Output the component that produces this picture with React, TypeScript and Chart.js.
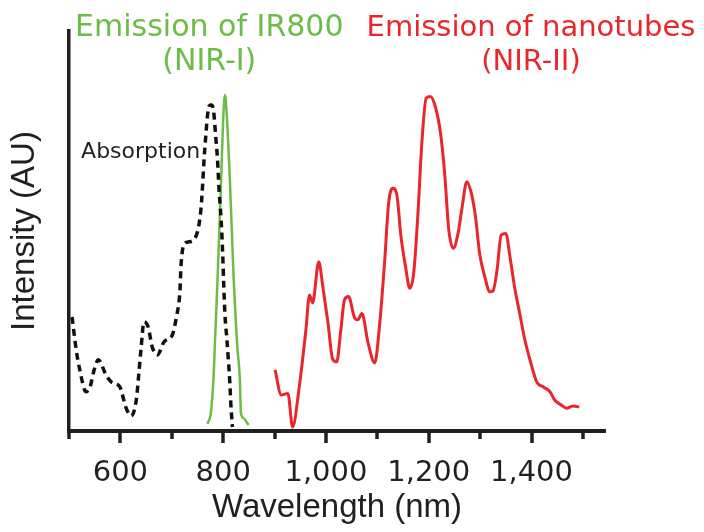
import React, { useEffect, useRef } from "react";
import { Chart, registerables } from "chart.js";

Chart.register(...registerables);

// ---- data (wavelength in nm, intensity in arbitrary units 0-100) ----
const absorptionNm = [506, 514, 521, 533, 541, 549, 557, 572, 582, 599, 603, 611, 621, 631, 636, 640, 646, 654, 662, 672, 685, 701, 709, 716, 718, 726, 734, 750, 757, 760, 763, 766, 769, 773, 777, 781, 786, 789, 792, 796, 799, 801, 803.5, 807, 810.5, 813, 815, 818];
const absorptionI = [28.5, 20.3, 15.3, 9.8, 11, 15.3, 17.8, 14, 12.3, 11, 9.5, 5.8, 3.8, 7.8, 14.5, 20.3, 27.3, 26, 21, 19, 22.3, 24, 28.5, 35.3, 41.5, 47, 47.3, 49.8, 55.8, 61.5, 68.3, 73.5, 78.3, 81.3, 81.5, 80.3, 72.8, 67.8, 60.3, 52.8, 44.5, 37, 29, 23.3, 17, 12, 6.5, 1];

const ir800Nm = [769.5, 776, 781, 785, 789, 796, 800, 803.5, 807, 813, 820.5, 825.5, 827.5, 832.5, 834.5, 839, 849.5];
const ir800I = [1.8, 4.5, 12.8, 25.3, 37.8, 62.8, 77.8, 84, 79, 62.8, 37.8, 25.3, 21, 12.8, 4.5, 3.3, 1.5];

const nanotubeNm = [901, 913, 926, 935, 948, 961, 968, 974, 986, 994, 1004, 1013, 1021, 1029, 1036, 1044, 1056, 1062, 1070, 1082, 1095, 1104, 1114, 1122, 1130, 1138, 1146, 1155, 1163, 1171, 1179, 1187, 1195, 1203, 1213, 1223, 1231, 1239, 1248, 1257, 1265, 1274, 1283, 1291, 1299, 1309, 1319, 1325, 1333, 1341, 1350, 1358, 1367, 1377, 1387, 1397, 1410, 1423, 1436, 1445, 1458, 1468, 1481, 1493];
const nanotubeI = [15.3, 9, 9.4, 1, 11, 25.3, 34, 32, 42.3, 36, 27, 18, 17.3, 25.3, 32.8, 33.6, 28.2, 27.8, 29.4, 22, 17, 26, 42, 57, 60.7, 59, 48.6, 41, 35.7, 39.8, 54.4, 72.8, 83.2, 83.6, 81, 74.4, 64.4, 50.3, 45.7, 49.4, 56, 62.3, 59.4, 53.6, 44.4, 38.6, 34.8, 35, 40.3, 49, 49.4, 43.6, 36, 29.4, 22.8, 17.8, 12.3, 11, 9.8, 7.75, 6.5, 5.7, 6.25, 6];

const xTickValues = [500, 600, 700, 800, 900, 1000, 1100, 1200, 1300, 1400, 1500];
const xLabelValues = [600, 800, 1000, 1200, 1400];

// annotation texts and their anchor (x in nm, y in intensity units)
const greenTitle = ["Emission of IR800", "(NIR-I)"];
const redTitle = ["Emission of nanotubes", "(NIR-II)"];
const titleLineY = [98.75, 90.25];
const greenTitleX = 773;
const redTitleX = 1399;
const absorptionLabel = "Absorption";
const absorptionLabelX = 523.5;
const absorptionLabelY = 68.25;

const AXIS = "#231f20";
const TEXT = "#231f20";
const RED = "#e8262b";
const GREEN = "#6cbd48";

const pts = (xs: number[], ys: number[]) => xs.map((x, i) => ({ x, y: ys[i] }));

const decorPlugin = {
  id: "decor",
  afterDraw(chart: any) {
    const { ctx, chartArea, scales } = chart;
    const xs = scales.x;
    const ys = scales.y;
    ctx.save();
    ctx.strokeStyle = AXIS;
    ctx.lineWidth = 3.5;
    ctx.lineCap = "butt";
    for (const v of xTickValues) {
      const px = Math.round(xs.getPixelForValue(v));
      const len = xLabelValues.includes(v) ? 12 : 8;
      ctx.beginPath();
      ctx.moveTo(px, chartArea.bottom - 1);
      ctx.lineTo(px, chartArea.bottom + len);
      ctx.stroke();
    }
    ctx.textAlign = "center";
    ctx.textBaseline = "alphabetic";
    ctx.font = "30px 'DejaVu Sans'";
    ctx.fillStyle = GREEN;
    greenTitle.forEach((t, i) => {
      ctx.fillText(t, xs.getPixelForValue(greenTitleX), ys.getPixelForValue(titleLineY[i]));
    });
    ctx.font = "29px 'DejaVu Sans'";
    ctx.fillStyle = RED;
    redTitle.forEach((t, i) => {
      ctx.fillText(t, xs.getPixelForValue(redTitleX), ys.getPixelForValue(titleLineY[i]));
    });
    ctx.textAlign = "left";
    ctx.font = "22px 'DejaVu Sans'";
    ctx.fillStyle = TEXT;
    ctx.fillText(absorptionLabel, xs.getPixelForValue(absorptionLabelX), ys.getPixelForValue(absorptionLabelY));
    ctx.restore();
  },
};

export default function App() {
  const ref = useRef<HTMLCanvasElement | null>(null);
  useEffect(() => {
    if (!ref.current) return;
    const chart = new Chart(ref.current, {
      type: "line",
      data: {
        datasets: [
          {
            data: pts(absorptionNm, absorptionI),
            borderColor: "#111111",
            borderWidth: 3.5,
            borderDash: [7, 5],
            pointRadius: 0,
            cubicInterpolationMode: "monotone",
            fill: false,
          },
          {
            data: pts(ir800Nm, ir800I),
            borderColor: GREEN,
            borderWidth: 2.5,
            pointRadius: 0,
            cubicInterpolationMode: "monotone",
            fill: false,
          },
          {
            data: pts(nanotubeNm, nanotubeI),
            borderColor: RED,
            borderWidth: 3,
            pointRadius: 0,
            cubicInterpolationMode: "monotone",
            fill: false,
          },
        ],
      } as any,
      options: {
        animation: false,
        responsive: true,
        maintainAspectRatio: false,
        devicePixelRatio: 1,
        layout: { padding: { left: 0, right: 99, top: 31, bottom: 0 } },
        plugins: { legend: { display: false }, tooltip: { enabled: false } },
        scales: {
          x: {
            type: "linear",
            min: 500,
            max: 1543,
            afterBuildTicks: (s: any) => {
              s.ticks = xTickValues.map((v) => ({ value: v }));
            },
            grid: { display: false, drawTicks: false },
            border: { display: true, color: AXIS, width: 4 },
            ticks: {
              padding: 28,
              color: TEXT,
              autoSkip: false,
              maxRotation: 0,
              font: { family: "DejaVu Sans", size: 29, lineHeight: 1 },
              callback: (v: any) => (xLabelValues.includes(Number(v)) ? Number(v).toLocaleString("en-US") : ""),
            },
            title: {
              display: true,
              text: "Wavelength (nm)",
              color: TEXT,
              font: { family: "Liberation Sans", size: 33, lineHeight: 1 },
              padding: { top: -24.5, bottom: 7.5 },
            },
          },
          y: {
            type: "linear",
            min: 0,
            max: 100,
            grid: { display: false, drawTicks: false },
            border: { display: true, color: AXIS, width: 3.5 },
            ticks: { display: false },
            title: {
              display: true,
              text: "Intensity (AU)",
              color: TEXT,
              font: { family: "Liberation Sans", size: 33, lineHeight: 1 },
              padding: { top: 8.5, bottom: 27.5 },
            },
          },
        },
      } as any,
      plugins: [decorPlugin],
    });
    return () => chart.destroy();
  }, []);
  return (
    <div style={{ position: "relative", width: 704, height: 532, margin: -8 }}>
      <canvas ref={ref} />
    </div>
  );
}
